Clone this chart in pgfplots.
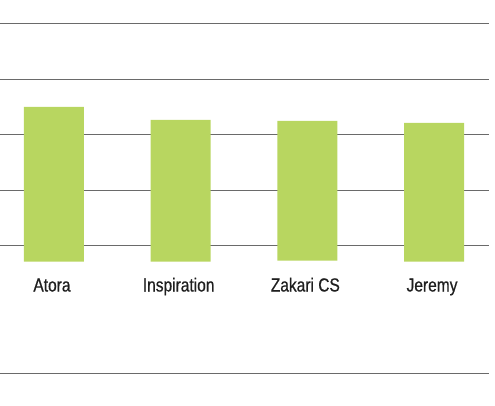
\documentclass[border=0pt]{standalone}
\usepackage{pgfplots}
\pgfplotsset{compat=1.18}
\usepackage{fontspec}
\setmainfont{Liberation Sans}[FakeStretch=0.82, FakeBold=0.6]
\definecolor{barg}{HTML}{B8D660}
\definecolor{gridc}{HTML}{6A6A6A}
\begin{document}
\begin{tikzpicture}[x=1bp,y=1bp]
\begin{axis}[
  set layers, axis on top=false,
  at={(0,0)}, anchor=south west,
  scale only axis, width=489bp, height=405bp,
  xmin=-0.426, xmax=3.434, ymin=-2.586, ymax=4.721,
  axis line style={draw=none}, tick style={draw=none},
  ytick={0.288,1.288,2.288,3.288,4.288}, yticklabels={},
  ymajorgrids, grid style={gridc, line width=1bp},
  extra y ticks={-2.012}, extra y tick labels={},
  extra y tick style={grid=major, grid style={gridc, line width=1bp}},
  xtick={0,1,2,3}, xticklabels={Atora,Inspiration,Zakari CS,Jeremy},
  xticklabel style={anchor=base, yshift=113.5bp, xshift=-2bp, font=\fontsize{19}{22}\selectfont, text=black!88},
  ybar stacked, bar width=60bp,
]
\addplot[draw=none, fill=none] coordinates {(0,0) (1,0) (2,0.018) (3,0)};
\addplot[draw=none, fill=barg] coordinates {(0,2.792) (1,2.557) (2,2.521) (3,2.503)};
\end{axis}
\pgfresetboundingbox
\useasboundingbox (0,0) rectangle (495,405);
\end{tikzpicture}
\end{document}
